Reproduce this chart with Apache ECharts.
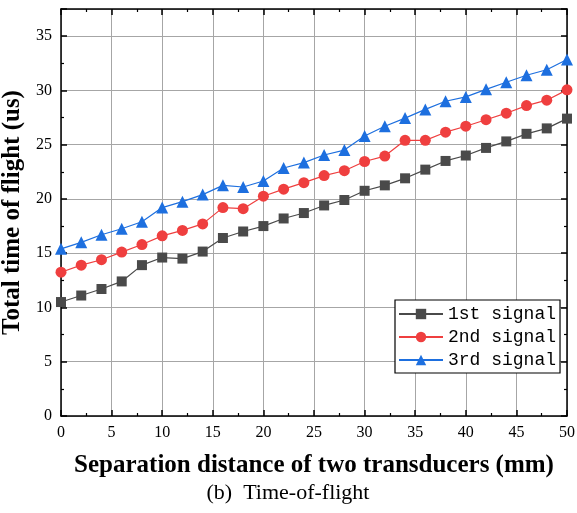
<!DOCTYPE html>
<html>
<head>
<meta charset="utf-8">
<script src="https://cdn.jsdelivr.net/npm/echarts@6/dist/echarts.min.js"></script>
<style>html,body{margin:0;padding:0;background:#fff;}#c{width:577px;height:513px;}</style>
</head>
<body>
<div id="c"></div>
<script>
const distances = [0,2,4,6,8,10,12,14,16,18,20,22,24,26,28,30,32,34,36,38,40,42,44,46,48,50];
const signal1 = [10.5,11.1,11.7,12.4,13.9,14.6,14.5,15.15,16.4,17.0,17.5,18.2,18.7,19.4,19.9,20.75,21.25,21.9,22.7,23.5,24.0,24.7,25.3,26.0,26.5,27.4];
const signal2 = [13.25,13.9,14.4,15.1,15.8,16.6,17.1,17.7,19.2,19.1,20.25,20.9,21.5,22.15,22.6,23.45,23.95,25.4,25.4,26.15,26.7,27.3,27.9,28.6,29.1,30.05];
const signal3 = [15.4,16.0,16.7,17.25,17.9,19.2,19.75,20.4,21.25,21.1,21.65,22.85,23.35,24.05,24.5,25.8,26.7,27.45,28.25,29.0,29.4,30.1,30.75,31.4,31.9,32.85];
const seriesNames = ['1st signal','2nd signal','3rd signal'];
const xTicks = [0,5,10,15,20,25,30,35,40,45,50];
const yTicks = [0,5,10,15,20,25,30,35];

const chart = echarts.init(document.getElementById('c'));
const serif = '"Liberation Serif", "Times New Roman", serif';
function pairs(v){ return distances.map((d,i)=>[d,v[i]]); }
const frameTick = {show:true, inside:true, length:6, lineStyle:{color:'#000', width:1.5}};
const minorTick = {show:true, splitNumber:2, length:3, lineStyle:{color:'#000', width:1.2}};
const colors = ['#4a4a4a','#ef3f3f','#1d6fdf'];
const symbols = ['rect','circle','triangle'];
const sizes = [10,11,12];
chart.setOption({
  animation:false,
  backgroundColor:'#fff',
  grid:{left:61, right:10, top:9, bottom:97, containLabel:false, outerBoundsMode:'none'},
  title:{text:'(b)  Time-of-flight', left:283, top:477, textAlign:'center',
    textStyle:{fontFamily:serif, fontSize:22, fontWeight:'normal', color:'#000'}},
  legend:{
    orient:'vertical', left:395, top:300, width:165,
    data:seriesNames, itemWidth:44, itemHeight:13, itemGap:5,
    padding:[5,4,4,3],
    backgroundColor:'#fff', borderColor:'#000', borderWidth:1.2, borderRadius:0,
    textStyle:{fontFamily:'"Liberation Mono", "DejaVu Sans Mono", monospace', fontSize:18, color:'#000'}
  },
  xAxis:[{
    type:'value', min:0, max:50, interval:5, position:'bottom',
    axisLine:{show:true, onZero:false, lineStyle:{color:'#000', width:1.5}},
    axisTick:frameTick, minorTick:minorTick,
    splitLine:{show:true, lineStyle:{color:'#a6a6a6', width:1}},
    axisLabel:{fontFamily:serif, fontSize:16, color:'#000', margin:9,
      formatter:function(v){return xTicks.indexOf(v)>=0 ? String(v) : '';}},
    name:'Separation distance of two transducers (mm)', nameLocation:'middle', nameGap:37,
    nameTextStyle:{fontFamily:serif, fontSize:25, fontWeight:'bold', color:'#000'}
  },{
    type:'value', min:0, max:50, interval:5, position:'top',
    axisLine:{show:true, onZero:false, lineStyle:{color:'#000', width:1.5}},
    axisTick:frameTick, minorTick:minorTick,
    splitLine:{show:false}, axisLabel:{show:false}
  }],
  yAxis:[{
    type:'value', min:0, max:37.5, interval:5, position:'left',
    axisLine:{show:true, onZero:false, lineStyle:{color:'#000', width:1.5}},
    axisTick:frameTick, minorTick:minorTick,
    splitLine:{show:true, lineStyle:{color:'#a6a6a6', width:1}},
    axisLabel:{fontFamily:serif, fontSize:16, color:'#000', margin:9,
      formatter:function(v){return yTicks.indexOf(v)>=0 ? String(v) : '';}},
    name:'Total time of flight (us)', nameLocation:'middle', nameGap:33,
    nameTextStyle:{fontFamily:serif, fontSize:25, fontWeight:'bold', color:'#000'}
  },{
    type:'value', min:0, max:37.5, interval:5, position:'right',
    axisLine:{show:true, onZero:false, lineStyle:{color:'#000', width:1.5}},
    axisTick:frameTick, minorTick:minorTick,
    splitLine:{show:false}, axisLabel:{show:false}
  }],
  series:[signal1, signal2, signal3].map((v,i)=>({
    name:seriesNames[i], type:'line', xAxisIndex:0, yAxisIndex:0,
    data:pairs(v), symbol:symbols[i], symbolSize:sizes[i], showAllSymbol:true,
    itemStyle:{color:colors[i]}, lineStyle:{color:colors[i], width:1.2}
  }))
});
</script>
</body>
</html>
